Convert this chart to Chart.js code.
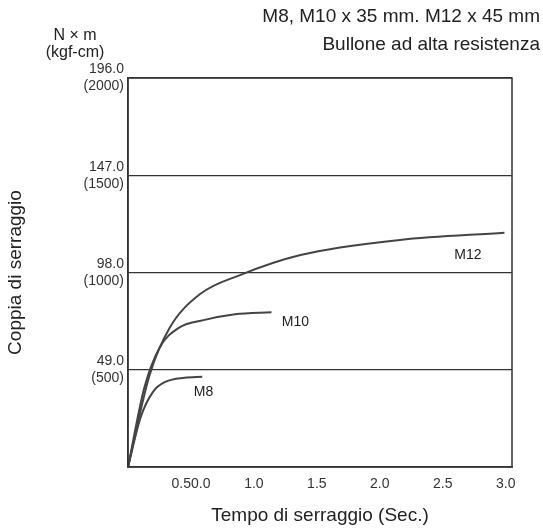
<!DOCTYPE html>
<html><head><meta charset="utf-8">
<script src="https://cdn.jsdelivr.net/npm/chart.js@4"></script>
<style>body{margin:0;background:#fff}#wrap{width:543px;height:531px}</style>
</head><body><div id="wrap"><canvas id="c"></canvas></div>
<script>
// valori
var tempoM12 = [0, 0.17, 0.33, 0.57, 0.89, 1.37, 2.16, 2.99];
var coppiaM12 = [0, 46, 70, 87, 96.7, 106.8, 114.4, 118];
var tempoM10 = [0, 0.13, 0.25, 0.4, 0.6, 0.85, 1.14];
var coppiaM10 = [0, 40, 60, 70, 74, 77, 78];
var tempoM8 = [0, 0.1, 0.2, 0.3, 0.45, 0.59];
var coppiaM8 = [0, 25, 38, 43, 45, 45.5];
var yTicks = [49, 98, 147, 196];
var yLabels = {49: ['49.0', '(500)'], 98: ['98.0', '(1000)'], 147: ['147.0', '(1500)'], 196: ['196.0', '(2000)']};
var xTicks = [0.5, 1.0, 1.5, 2.0, 2.5, 3.0];
var xLabels = {0.5: '0.50.0', 1: '1.0', 1.5: '1.5', 2: '2.0', 2.5: '2.5', 3: '3.0'};
var etichette = [['M12', 2.7, 105], ['M10', 1.33, 71], ['M8', 0.6, 36]];

function punti(xs, ys) {
    var out = [];
    for (var i = 0; i < xs.length; i++) out.push({x: xs[i], y: ys[i]});
    return out;
}
function serie(xs, ys) {
    return {data: punti(xs, ys), borderColor: '#444', borderWidth: 2, pointRadius: 0, cubicInterpolationMode: 'monotone', fill: false};
}

var testi = {
    id: 'testi',
    afterDraw: function(chart) {
        var ctx = chart.ctx, xs = chart.scales.x, ys = chart.scales.y;
        ctx.save();
        ctx.fillStyle = '#222';
        ctx.font = '19px Arial, "Liberation Sans"';
        ctx.textAlign = 'right';
        ctx.fillText('M8, M10 x 35 mm. M12 x 45 mm', 540, 22);
        ctx.fillText('Bullone ad alta resistenza', 540, 50);
        ctx.textAlign = 'center';
        ctx.font = '16px Arial, "Liberation Sans"';
        ctx.fillText('N × m', 75, 40);
        ctx.fillText('(kgf-cm)', 75, 57);
        ctx.font = '14px Arial, "Liberation Sans"';
        etichette.forEach(function(e) {
            ctx.fillText(e[0], xs.getPixelForValue(e[1]), ys.getPixelForValue(e[2]));
        });
        ctx.restore();
    }
};

new Chart(document.getElementById('c'), {
    type: 'line',
    data: {datasets: [serie(tempoM12, coppiaM12), serie(tempoM10, coppiaM10), serie(tempoM8, coppiaM8)]},
    options: {
        responsive: true, maintainAspectRatio: false, animation: false,
        layout: {padding: {top: 78, right: 31, left: 0, bottom: 0}},
        plugins: {legend: {display: false}, tooltip: {enabled: false}},
        scales: {
            x: {
                type: 'linear', min: 0, max: 3.05,
                afterFit: function(s) { s.height = 64; },
                afterBuildTicks: function(s) { s.ticks = xTicks.map(function(v) { return {value: v}; }); },
                grid: {display: false, drawTicks: true, tickLength: 6, tickColor: '#333'},
                border: {color: '#333', width: 1.5},
                ticks: {color: '#333', font: {size: 14}, maxRotation: 0, callback: function(v) { return xLabels[v]; }},
                title: {display: true, text: 'Tempo di serraggio (Sec.)', color: '#222', font: {size: 19}, padding: {top: 4}}
            },
            y: {
                min: 0, max: 196,
                afterFit: function(s) { s.width = 128; },
                afterBuildTicks: function(s) { s.ticks = yTicks.map(function(v) { return {value: v}; }); },
                grid: {color: '#333', lineWidth: 1.3, drawTicks: false},
                border: {color: '#333', width: 1.5},
                ticks: {color: '#333', font: {size: 14}, padding: 4, callback: function(v) { return yLabels[v]; }},
                title: {display: true, text: 'Coppia di serraggio', color: '#222', font: {size: 19}}
            }
        }
    },
    plugins: [testi, {
        id: 'bordo',
        afterDatasetsDraw: function(chart) {
            var a = chart.chartArea, ctx = chart.ctx;
            ctx.save(); ctx.strokeStyle = '#333'; ctx.lineWidth = 1.5;
            ctx.strokeRect(a.left, a.top, a.right - a.left, a.bottom - a.top);
            ctx.restore();
        }
    }]
});
</script></body></html>
